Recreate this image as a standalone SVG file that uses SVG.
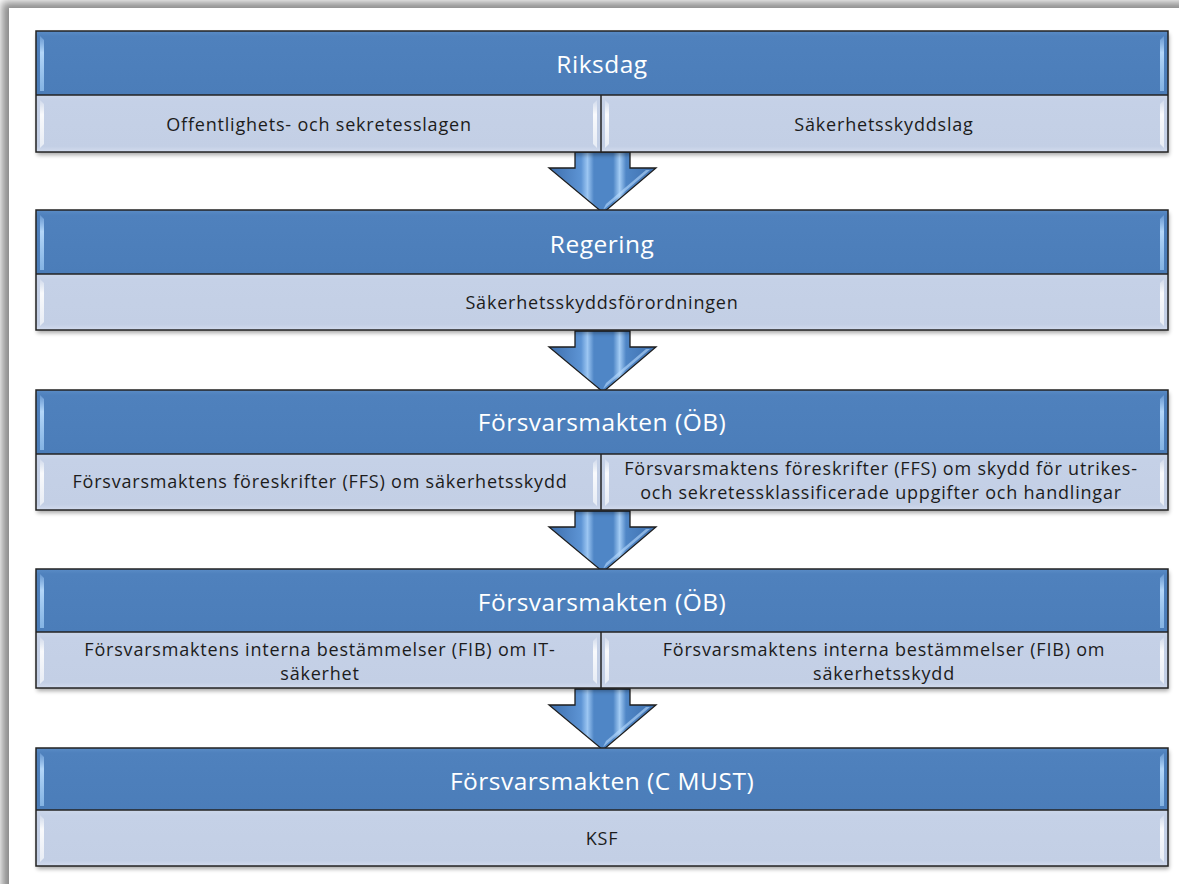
<svg xmlns="http://www.w3.org/2000/svg" width="1179" height="884" viewBox="0 0 1179 884">
<defs>
<filter id="pageShadow" x="-5%" y="-5%" width="110%" height="110%"><feGaussianBlur stdDeviation="4"/></filter>
<filter id="boxShadow" x="-2%" y="-10%" width="104%" height="130%"><feGaussianBlur stdDeviation="2"/></filter>
<linearGradient id="hdr" x1="0" y1="0" x2="0" y2="1">
<stop offset="0" stop-color="#5a8cc6"/><stop offset="0.08" stop-color="#4f81bd"/><stop offset="1" stop-color="#4b7db9"/>
</linearGradient>
<linearGradient id="sub" x1="0" y1="0" x2="0" y2="1">
<stop offset="0" stop-color="#ccd7ea"/><stop offset="0.1" stop-color="#c5d1e7"/><stop offset="0.9" stop-color="#c3cfe5"/><stop offset="1" stop-color="#d3dcee"/>
</linearGradient>
<linearGradient id="arr" x1="0" y1="0" x2="1" y2="0">
<stop offset="0" stop-color="#3d6ead"/><stop offset="0.3" stop-color="#5d94d4"/><stop offset="0.36" stop-color="#9cc6f2"/><stop offset="0.42" stop-color="#4f86c6"/><stop offset="0.6" stop-color="#4f86c6"/><stop offset="0.66" stop-color="#a4ccf4"/><stop offset="0.72" stop-color="#4f86c6"/><stop offset="1" stop-color="#3d6ead"/>
</linearGradient>
<linearGradient id="glossV" x1="0" y1="0" x2="0" y2="1">
<stop offset="0" stop-color="#ffffff" stop-opacity="0.2"/><stop offset="0.3" stop-color="#ffffff" stop-opacity="0.9"/><stop offset="1" stop-color="#ffffff" stop-opacity="0.6"/>
</linearGradient>
<linearGradient id="glossH" x1="0" y1="0" x2="0" y2="1">
<stop offset="0" stop-color="#a9d2ff" stop-opacity="0.3"/><stop offset="0.3" stop-color="#bfe0ff" stop-opacity="0.9"/><stop offset="1" stop-color="#9ccaf5" stop-opacity="0.7"/>
</linearGradient>
<g id="arrowShape">
<path d="M575,0 H630 V16 H656 L603,61 L549,16 H575 Z" fill="url(#arr)" stroke="#1e1e1e" stroke-width="1.3" stroke-linejoin="miter"/>
<path d="M603,58 L650,18 L646,18 L606,52 Z" fill="#b9dcff" opacity="0.6"/>
</g>
</defs>
<style>
.frame{fill:none;stroke:#232323;stroke-width:1.5}
.hdr{fill:url(#hdr)}
.sub{fill:url(#sub)}
.ht{font-family:"Open Sans","Noto Sans",sans-serif;font-size:24.5px;letter-spacing:0.5px;fill:#ffffff;text-anchor:middle}
.st{font-family:"Open Sans","Noto Sans",sans-serif;font-size:18px;letter-spacing:0.8px;fill:#1c1c1c;text-anchor:middle}
.gh{fill:url(#glossH)}
.gs{fill:url(#glossV)}
.shadow{fill:#000;opacity:0.35;filter:url(#boxShadow)}
</style>
<rect width="1179" height="884" fill="#ffffff"/>
<rect x="2" y="2" width="1190" height="900" fill="#8a8a8a" filter="url(#pageShadow)"/>
<rect x="9" y="8" width="1175" height="880" fill="#ffffff"/>

<g id="connectors">
<use href="#arrowShape" y="152"/>
<use href="#arrowShape" y="331"/>
<use href="#arrowShape" y="511"/>
<use href="#arrowShape" y="689"/>
</g>

<g id="riksdag">
<rect class="shadow" x="37" y="34" width="1132" height="121"/>
<rect class="hdr" x="36" y="31" width="1132" height="64"/>
<rect class="sub" x="36" y="95" width="565" height="57"/>
<rect class="sub" x="601" y="95" width="567" height="57"/>
<path class="gh" d="M40,36 L44,40 V91 H40 Z"/><path class="gh" d="M1164,36 L1160,40 V91 H1164 Z"/>
<path class="gs" d="M40,100 L44,104 V144 L40,148 Z"/><path class="gs" d="M597,100 L593,104 V144 L597,148 Z"/>
<path class="gs" d="M605,100 L609,104 V144 L605,148 Z"/><path class="gs" d="M1164,100 L1160,104 V144 L1164,148 Z"/>
<rect class="frame" x="36" y="31" width="1132" height="121"/>
<line class="frame" x1="36" y1="95" x2="1168" y2="95"/>
<line class="frame" x1="601" y1="95" x2="601" y2="152"/>
<text class="ht" x="602" y="73">Riksdag</text>
<text class="st" x="319" y="131">Offentlighets- och sekretesslagen</text>
<text class="st" x="884" y="131">Säkerhetsskyddslag</text>
</g>

<g id="regering">
<rect class="shadow" x="37" y="213" width="1132" height="120"/>
<rect class="hdr" x="36" y="210" width="1132" height="64"/>
<rect class="sub" x="36" y="274" width="1132" height="56"/>
<path class="gh" d="M40,215 L44,219 V270 H40 Z"/><path class="gh" d="M1164,215 L1160,219 V270 H1164 Z"/>
<path class="gs" d="M40,279 L44,283 V322 L40,326 Z"/><path class="gs" d="M1164,279 L1160,283 V322 L1164,326 Z"/>
<rect class="frame" x="36" y="210" width="1132" height="120"/>
<line class="frame" x1="36" y1="274" x2="1168" y2="274"/>
<text class="ht" x="602" y="253">Regering</text>
<text class="st" x="602" y="309">Säkerhetsskyddsförordningen</text>
</g>

<g id="fm-ob-1">
<rect class="shadow" x="37" y="393" width="1132" height="120"/>
<rect class="hdr" x="36" y="390" width="1132" height="64"/>
<rect class="sub" x="36" y="454" width="565" height="56"/>
<rect class="sub" x="601" y="454" width="567" height="56"/>
<path class="gh" d="M40,395 L44,399 V450 H40 Z"/><path class="gh" d="M1164,395 L1160,399 V450 H1164 Z"/>
<path class="gs" d="M40,459 L44,463 V502 L40,506 Z"/><path class="gs" d="M597,459 L593,463 V502 L597,506 Z"/>
<path class="gs" d="M605,459 L609,463 V502 L605,506 Z"/><path class="gs" d="M1164,459 L1160,463 V502 L1164,506 Z"/>
<rect class="frame" x="36" y="390" width="1132" height="120"/>
<line class="frame" x1="36" y1="454" x2="1168" y2="454"/>
<line class="frame" x1="601" y1="454" x2="601" y2="510"/>
<text class="ht" x="602" y="431">Försvarsmakten (ÖB)</text>
<text class="st" x="320" y="488">Försvarsmaktens föreskrifter (FFS) om säkerhetsskydd</text>
<text class="st" x="881" y="475">Försvarsmaktens föreskrifter (FFS) om skydd för utrikes-</text>
<text class="st" x="881" y="499">och sekretessklassificerade uppgifter och handlingar</text>
</g>

<g id="fm-ob-2">
<rect class="shadow" x="37" y="572" width="1132" height="119"/>
<rect class="hdr" x="36" y="569" width="1132" height="63"/>
<rect class="sub" x="36" y="632" width="565" height="56"/>
<rect class="sub" x="601" y="632" width="567" height="56"/>
<path class="gh" d="M40,574 L44,578 V628 H40 Z"/><path class="gh" d="M1164,574 L1160,578 V628 H1164 Z"/>
<path class="gs" d="M40,637 L44,641 V680 L40,684 Z"/><path class="gs" d="M597,637 L593,641 V680 L597,684 Z"/>
<path class="gs" d="M605,637 L609,641 V680 L605,684 Z"/><path class="gs" d="M1164,637 L1160,641 V680 L1164,684 Z"/>
<rect class="frame" x="36" y="569" width="1132" height="119"/>
<line class="frame" x1="36" y1="632" x2="1168" y2="632"/>
<line class="frame" x1="601" y1="632" x2="601" y2="688"/>
<text class="ht" x="602" y="611">Försvarsmakten (ÖB)</text>
<text class="st" x="320" y="656">Försvarsmaktens interna bestämmelser (FIB) om IT-</text>
<text class="st" x="320" y="680">säkerhet</text>
<text class="st" x="884" y="656">Försvarsmaktens interna bestämmelser (FIB) om</text>
<text class="st" x="884" y="680">säkerhetsskydd</text>
</g>

<g id="fm-cmust">
<rect class="shadow" x="37" y="751" width="1132" height="118"/>
<rect class="hdr" x="36" y="748" width="1132" height="62"/>
<rect class="sub" x="36" y="810" width="1132" height="56"/>
<path class="gh" d="M40,753 L44,757 V806 H40 Z"/><path class="gh" d="M1164,753 L1160,757 V806 H1164 Z"/>
<path class="gs" d="M40,815 L44,819 V858 L40,862 Z"/><path class="gs" d="M1164,815 L1160,819 V858 L1164,862 Z"/>
<rect class="frame" x="36" y="748" width="1132" height="118"/>
<line class="frame" x1="36" y1="810" x2="1168" y2="810"/>
<text class="ht" x="602" y="790">Försvarsmakten (C MUST)</text>
<text class="st" x="602" y="845">KSF</text>
</g>
</svg>
